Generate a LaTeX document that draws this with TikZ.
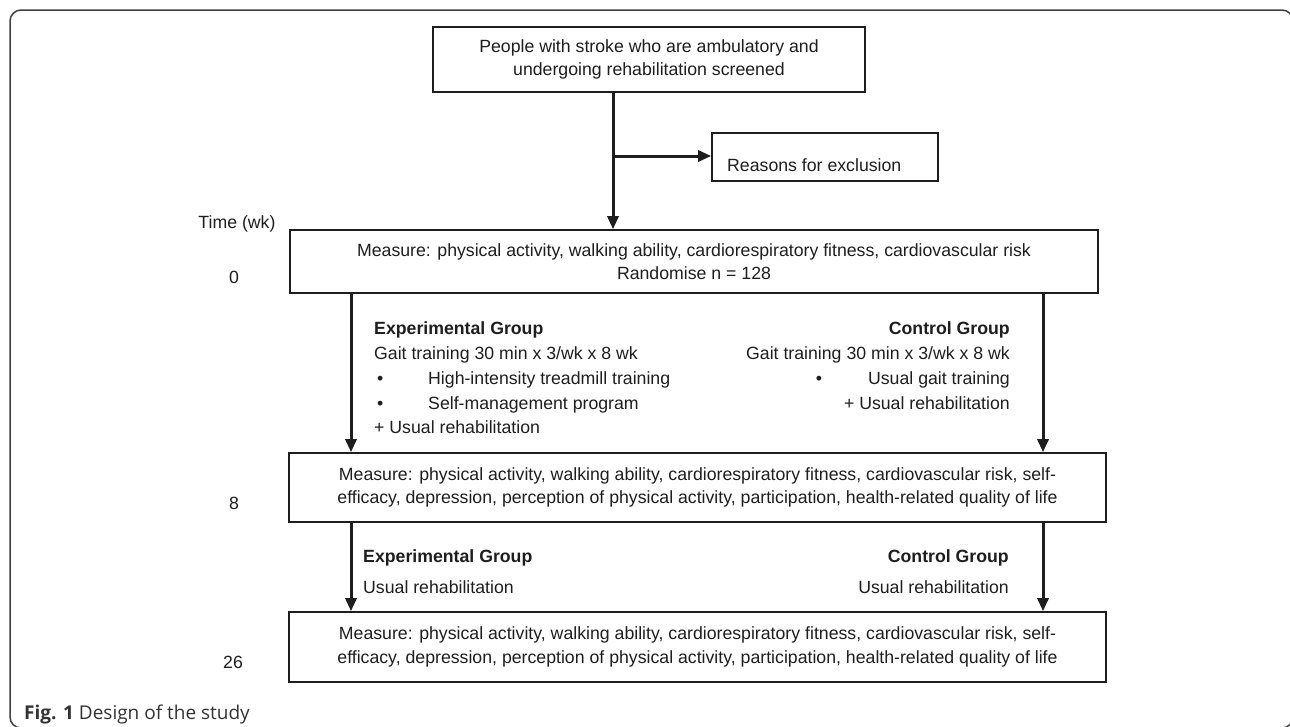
\documentclass[tikz,border=0pt]{standalone}
\usepackage{fontspec}
\setmainfont{Liberation Sans}
\newfontfamily\capfont{Open Sans}
\usetikzlibrary{arrows.meta}
\newcommand\dfont{\fontsize{17.7}{23.5}\selectfont}
\definecolor{ink}{HTML}{1E1E1E}
\begin{document}
\begin{tikzpicture}[x=1pt,y=-1pt,
  box/.style={draw=ink, line width=1.6pt, inner sep=0pt, align=center, font=\dfont, text=ink},
  arr/.style={line width=3pt, draw=ink, -{Triangle[length=13pt,width=11pt]}},
  txt/.style={inner sep=0pt, font=\dfont, text=ink},
  frame/.style={draw=black!75, line width=1.5pt, rounded corners=11pt}]
\useasboundingbox (0,0) rectangle (1290,726);
\draw[frame] (10,728) rectangle (1293,10);

% boxes
\node[box, minimum width=432pt, minimum height=65pt] (scr) at (649,59.5)
  {People with stroke who are ambulatory and\\undergoing rehabilitation screened};
\node[box, minimum width=226pt, minimum height=48pt] (exc) at (825,157) {};
\node[txt, anchor=base west] (exct) at (727,171) {Reasons for exclusion};
\node[box, minimum width=808pt, minimum height=63pt] (m0) at (694,261.5)
  {Measure: physical activity, walking ability, cardiorespiratory fitness, cardiovascular risk\\Randomise n = 128};
\node[box, minimum width=817pt, minimum height=69pt] (m8) at (697.5,487.5)
  {Measure: physical activity, walking ability, cardiorespiratory fitness, cardiovascular risk, self-\\efficacy, depression, perception of physical activity, participation, health-related quality of life};
\node[box, minimum width=817pt, minimum height=70pt] (m26) at (697.5,647)
  {Measure: physical activity, walking ability, cardiorespiratory fitness, cardiovascular risk, self-\\efficacy, depression, perception of physical activity, participation, health-related quality of life};

% time labels
\node[txt, anchor=base] (tw) at (237,228) {Time (wk)};
\node[txt, anchor=base] (t0) at (234,283) {0};
\node[txt, anchor=base] (t8) at (234,509) {8};
\node[txt, anchor=base] (t26) at (233,668) {26};

% arrows
\coordinate (vx) at (613,0);
\coordinate (br) at (613,156);
\coordinate (lx) at (351,0);
\coordinate (rx) at (1043,0);
\draw[arr] (scr.south -| vx) -- (m0.north -| vx);
\draw[arr] (br) -- (exc.west |- br);
\draw[arr] (m0.south -| lx) -- (m8.north -| lx);
\draw[arr] (m0.south -| rx) -- (m8.north -| rx);
\draw[arr] (m8.south -| lx) -- (m26.north -| lx);
\draw[arr] (m8.south -| rx) -- (m26.north -| rx);

% experimental group (0-8 wk)
\node[txt, anchor=base west] (e1) at (374,334) {\textbf{Experimental Group}};
\node[txt, anchor=base west] (e2) at (374,359) {Gait training 30 min x 3/wk x 8 wk};
\node[txt, anchor=base west] (e3) at (374,384) {\makebox[54pt][l]{\,•}High-intensity treadmill training};
\node[txt, anchor=base west] (e4) at (374,409) {\makebox[54pt][l]{\,•}Self-management program};
\node[txt, anchor=base west] (e5) at (374,433) {+ Usual rehabilitation};
% control group (0-8 wk)
\node[txt, anchor=base east] (c1) at (1010,334) {\textbf{Control Group}};
\node[txt, anchor=base east] (c2) at (1010,359) {Gait training 30 min x 3/wk x 8 wk};
\node[txt, anchor=base east] (c3) at (1010,384) {•\hspace{46pt}Usual gait training};
\node[txt, anchor=base east] (c4) at (1010,409) {+ Usual rehabilitation};

% 8-26 wk
\node[txt, anchor=base west] (f1) at (363,562) {\textbf{Experimental Group}};
\node[txt, anchor=base west] (f2) at (363,593) {Usual rehabilitation};
\node[txt, anchor=base east] (d1) at (1009,562) {\textbf{Control Group}};
\node[txt, anchor=base east] (d2) at (1009,593) {Usual rehabilitation};

% caption
\node[inner sep=0pt, anchor=base west, font=\capfont\fontsize{19}{22}\selectfont, text=black!80] (cap) at (24,719)
  {\textbf{Fig. 1} Design of the study};
\end{tikzpicture}
\end{document}
